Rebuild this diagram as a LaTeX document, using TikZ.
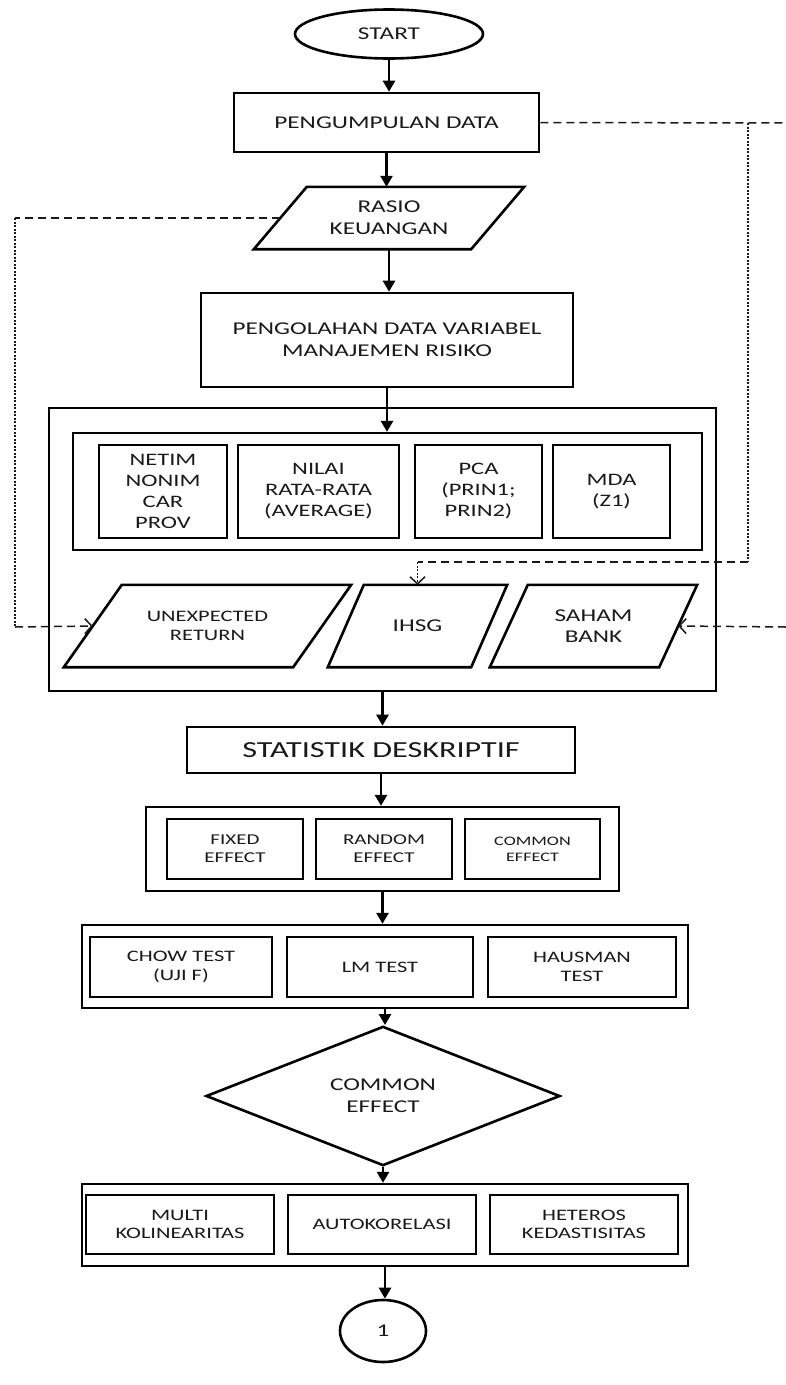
\documentclass[tikz,border=0pt]{standalone}
\usepackage{fontspec}
\setmainfont[FakeStretch=1.4]{Carlito}
\usetikzlibrary{arrows.meta,shapes.geometric}
\definecolor{ink}{HTML}{1A1A1A}
\tikzset{
  box/.style={draw=black, line width=2.6pt, rectangle, inner sep=0pt, align=center, text=ink},
  grp/.style={draw=black, line width=2.3pt, rectangle, inner sep=0pt},
  paratext/.style={rectangle, inner sep=0pt, align=center, text=ink},
  pline/.style={draw=black, line width=2.6pt, line join=miter},
  flow/.style={line width=2.6pt, -{Triangle[length=11pt,width=12pt]}},
  dashline/.style={line width=1.5pt, draw=ink, dash pattern=on 8pt off 5pt},
  dotline/.style={line width=1.5pt, draw=ink, dash pattern=on 2pt off 1.5pt},
  openarr/.style={-{Straight Barb[length=7pt,width=15pt,line width=1.5pt]}},
  fA/.style={font=\fontsize{18}{21.6}\selectfont},
  fB/.style={font=\fontsize{17.5}{21}\selectfont},
  fC/.style={font=\fontsize{16}{18.5}\selectfont},
  fD/.style={font=\fontsize{15}{18}\selectfont},
  fE/.style={font=\fontsize{13}{16}\selectfont},
  fS/.style={font=\fontsize{23}{27}\selectfont},
}
\begin{document}
\begin{tikzpicture}[x=1pt,y=-1pt]
\useasboundingbox[fill=white] (0,0) rectangle (786,1385);

% main chain
\node[box, ellipse, minimum width=188, minimum height=49, fA] (start) at (389,34) {START};
\node[box, minimum width=305, minimum height=59, fA] (peng) at (386.5,122.5) {PENGUMPULAN DATA};
\node[paratext, minimum width=217, minimum height=62, fA] (rasio) at (389,218) {RASIO\\KEUANGAN};
\draw[pline] ([xshift=-26.5pt]rasio.south west) -- ([xshift=26.5pt]rasio.north west) -- ([xshift=26.5pt]rasio.north east) -- ([xshift=-26.5pt]rasio.south east) -- cycle;
\node[box, minimum width=372, minimum height=94, fA] (olah) at (387,340) {PENGOLAHAN DATA VARIABEL\\MANAJEMEN RISIKO};

% big container
\node[grp, minimum width=667, minimum height=283] (outer) at (382.5,549.5) {};
\node[grp, minimum width=629, minimum height=117] (inner) at (387.5,491.5) {};
\node[box, minimum width=128, minimum height=93, fB] (netim) at (163,491.5) {NETIM\\NONIM\\CAR\\PROV};
\node[box, minimum width=161, minimum height=93, fB] (nilai) at (318.5,491.5) {NILAI\\RATA-RATA\\(AVERAGE)};
\node[box, minimum width=127, minimum height=93, fB] (pca) at (478.5,491.5) {PCA\\(PRIN1;\\PRIN2)};
\node[box, minimum width=117, minimum height=93, fB] (mda) at (611.5,491.5) {MDA\\(Z1)};

\node[paratext, minimum width=229, minimum height=82, fC] (unexp) at (207.5,626) {UNEXPECTED\\RETURN};
\draw[pline] ([xshift=-29pt]unexp.south west) -- ([xshift=29pt]unexp.north west) -- ([xshift=29pt]unexp.north east) -- ([xshift=-29pt]unexp.south east) -- cycle;
\node[paratext, minimum width=143, minimum height=82, fA] (ihsg) at (417.5,626) {IHSG};
\draw[pline] ([xshift=-18pt]ihsg.south west) -- ([xshift=18pt]ihsg.north west) -- ([xshift=18pt]ihsg.north east) -- ([xshift=-18pt]ihsg.south east) -- cycle;
\node[paratext, minimum width=169, minimum height=82, fA] (saham) at (593.5,626) {SAHAM\\BANK};
\draw[pline] ([xshift=-19pt]saham.south west) -- ([xshift=19pt]saham.north west) -- ([xshift=19pt]saham.north east) -- ([xshift=-19pt]saham.south east) -- cycle;

\node[box, minimum width=388, minimum height=46, fS] (stat) at (381,750) {STATISTIK DESKRIPTIF};

\node[grp, minimum width=473, minimum height=84] (fixgrp) at (382.5,849) {};
\node[box, minimum width=136, minimum height=60, fD] (fixed) at (235,849) {FIXED\\EFFECT};
\node[box, minimum width=136, minimum height=60, fD] (random) at (384,849) {RANDOM\\EFFECT};
\node[box, minimum width=135, minimum height=60, fE] (common) at (532.5,849) {COMMON\\EFFECT};

\node[grp, minimum width=606, minimum height=83] (chowgrp) at (385,966.5) {};
\node[box, minimum width=182, minimum height=60, fC] (chow) at (181,967) {CHOW TEST\\(UJI F)};
\node[box, minimum width=186, minimum height=60, fC] (lm) at (380,967) {LM TEST};
\node[box, minimum width=188, minimum height=60, fC] (haus) at (582,967) {HAUSMAN\\TEST};

\node[box, diamond, minimum width=354, minimum height=105, fA] (dec) at (383,1096) {COMMON\\EFFECT};

\node[grp, minimum width=606, minimum height=82] (multigrp) at (385,1225) {};
\node[box, minimum width=188, minimum height=59, fC] (multi) at (180,1224.5) {MULTI\\KOLINEARITAS};
\node[box, minimum width=188, minimum height=59, fC] (auto) at (382,1224.5) {AUTOKORELASI};
\node[box, minimum width=188, minimum height=59, fC] (heter) at (584,1224.5) {HETEROS\\KEDASTISITAS};

\node[box, ellipse, minimum width=86, minimum height=62, fA] (circ) at (383,1331) {1};

% solid flow arrows
\draw[flow] (start.south) -- (start.south |- peng.north);
\draw[flow] (peng.south) -- (peng.south |- rasio.north);
\draw[flow] (rasio.south) -- (rasio.south |- olah.north);
\draw[flow] (olah.south) -- (olah.south |- inner.north);
\draw[flow] (outer.south) -- (outer.south |- stat.north);
\draw[flow] (stat.south) -- (stat.south |- fixgrp.north);
\draw[flow] (fixgrp.south) -- (fixgrp.south |- chowgrp.north);
\draw[flow] (chowgrp.south) -- (chowgrp.south |- dec.north);
\draw[flow] (dec.south) -- (dec.south |- multigrp.north);
\draw[flow] (multigrp.south) -- (multigrp.south |- circ.north);

% dashed feedback lines
\coordinate (redgeA) at (786,123);
\coordinate (branch) at (748,123);
\coordinate (bendR) at (748,562);
\coordinate (bendI) at (ihsg.north |- bendR);
\coordinate (redgeB) at (786,627);
\coordinate (bendL1) at (15,218);
\coordinate (bendL2) at (15,627);

\draw[dashline] (peng.east) -- (redgeA);
\draw[dotline] (branch) -- (bendR);
\draw[dashline] (bendR) -- (bendI);
\draw[dotline, openarr] (bendI) -- (ihsg.north);
\draw[dashline, openarr] (redgeB) -- (saham.east);
\draw[dashline] (rasio.west) -- (bendL1);
\draw[dotline] (bendL1) -- (bendL2);
\draw[dashline, openarr] (bendL2) -- (unexp.west);
\end{tikzpicture}
\end{document}
